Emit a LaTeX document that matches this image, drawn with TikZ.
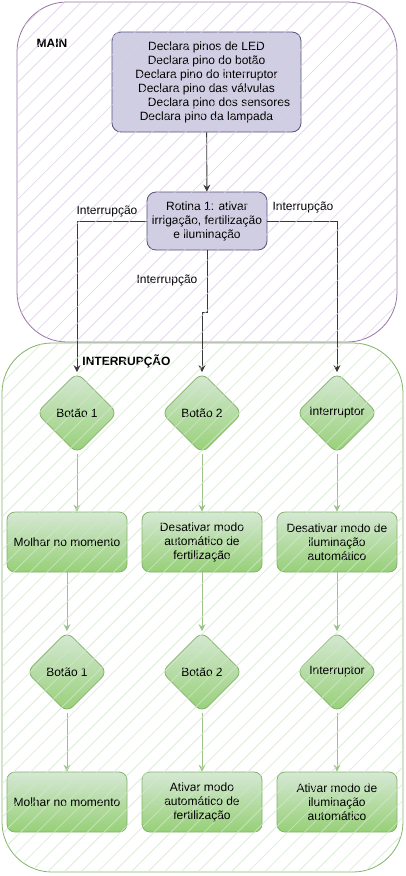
\documentclass[tikz,border=0pt]{standalone}
\usepackage{fontspec}
\setmainfont{Liberation Sans}
\usetikzlibrary{shapes.geometric,arrows.meta}
\definecolor{lavfill}{HTML}{D0CEE2}
\definecolor{lavdraw}{HTML}{56517E}
\definecolor{gtop}{HTML}{D5E8D4}
\definecolor{gbot}{HTML}{97D077}
\definecolor{gdraw}{HTML}{82B366}
\definecolor{mainframe}{HTML}{9673A6}
\definecolor{mainhatch}{HTML}{DCCDE6}
\definecolor{greenhatch}{HTML}{D2E8CC}
\definecolor{garrow}{HTML}{9AC487}
\begin{document}
\begin{tikzpicture}[x=1pt,y=-1pt,
  every node/.style={font=\fontsize{12pt}{14pt}\selectfont, inner sep=0pt},
  lavbox/.style={draw=lavdraw, fill=lavfill, rounded corners=9pt, line width=0.8pt, align=center},
  gbox/.style={draw=gdraw, top color=gtop, bottom color=gbot, rounded corners=8pt, minimum width=120pt, minimum height=60pt, align=center, line width=0.8pt},
  gdia/.style={diamond, draw=gdraw, top color=gtop, bottom color=gbot, rounded corners=8pt, minimum width=81pt, minimum height=81pt, line width=0.8pt},
  darr/.style={draw=black!78, line width=0.9pt, -{Stealth[length=7pt,width=7pt,inset=2.5pt]}},
  garr/.style={draw=garrow, line width=0.9pt, -{Stealth[length=7pt,width=7pt,inset=2.5pt]}},
  ttl/.style={font=\fontsize{12pt}{14pt}\selectfont\bfseries}
]
\useasboundingbox[fill=white] (0,0) rectangle (405,876);

% containers
\draw[mainframe, line width=0.8pt, rounded corners=50pt] (17,2) rectangle (397,342);
\draw[gdraw, line width=0.8pt, rounded corners=50pt] (2,343) rectangle (403,872);
\node[ttl] (tmain) at (52,43) {MAIN};
\node[ttl] (tint) at (126.5,361) {INTERRUPÇÃO};

% main nodes
\node[lavbox, minimum width=189pt, minimum height=100pt] (decl) at (206.5,82)
  {Declara pinos de LED\\Declara pino do botão\\Declara pino do interruptor\\Declara pino das válvulas\\\hspace*{25pt}Declara pino dos sensores\\Declara pino da lampada};
\node[lavbox, minimum width=120pt, minimum height=58pt] (rot) at (207,221)
  {Rotina 1: ativar\\irrigação, fertilização\\e iluminação};

% interruption nodes
\node[gdia] (d1) at (77,413) {Botão 1};
\node[gdia] (d2) at (202,413) {Botão 2};
\node[gdia] (d3) at (337,413) {Interruptor};
\node[gbox] (b1) at (67,542) {Molhar no momento};
\node[gbox] (b2) at (202,542) {Desativar modo\\automático de\\fertilização};
\node[gbox] (b3) at (337,542) {Desativar modo de\\iluminação\\automático};
\node[gdia] (d4) at (67,672) {Botão 1};
\node[gdia] (d5) at (202,672) {Botão 2};
\node[gdia] (d6) at (337,672) {Interruptor};
\node[gbox] (b4) at (67,802) {Molhar no momento};
\node[gbox] (b5) at (202,802) {Ativar modo\\automático de\\fertilização};
\node[gbox] (b6) at (337,802) {Ativar modo de\\iluminação\\automático};

% connectors main
\draw[darr] (decl) -- (rot);
\draw[darr] (rot.west) -| (d1.north);
\draw[darr] (rot.east) -| (d3.north);
\draw[darr] (rot.south) -- ++(0,62) -| (d2.north);
\node (l1) at (107,211) {Interrupção};
\node (l2) at (303,207) {Interrupção};
\node (l3) at (167,280) {Interrupção};

% connectors green
\draw[garr] (d1.south) -- (d1.south |- b1.north);
\draw[garr] (d2.south) -- (b2.north);
\draw[garr] (d3.south) -- (b3.north);
\draw[garr] (b1.south) -- (d4.north);
\draw[garr] (b2.south) -- (d5.north);
\draw[garr] (b3.south) -- (d6.north);
\draw[garr] (d4.south) -- (b4.north);
\draw[garr] (d5.south) -- (b5.north);
\draw[garr] (d6.south) -- (b6.north);

% hatching on top
\begin{scope}
  \clip[rounded corners=50pt] (17,2) rectangle (397,342);
  \foreach \i in {0,...,46}
    \draw[mainhatch, line width=0.8pt, opacity=0.75] ({-345+\i*16.7},345) -- ++(345,-345);
\end{scope}
\begin{scope}
  \clip[rounded corners=50pt] (2,343) rectangle (403,872);
  \foreach \i in {0,...,58}
    \draw[greenhatch, line width=0.8pt, opacity=0.75] ({-540+\i*16.7},875) -- ++(535,-535);
\end{scope}
\end{tikzpicture}
\end{document}
